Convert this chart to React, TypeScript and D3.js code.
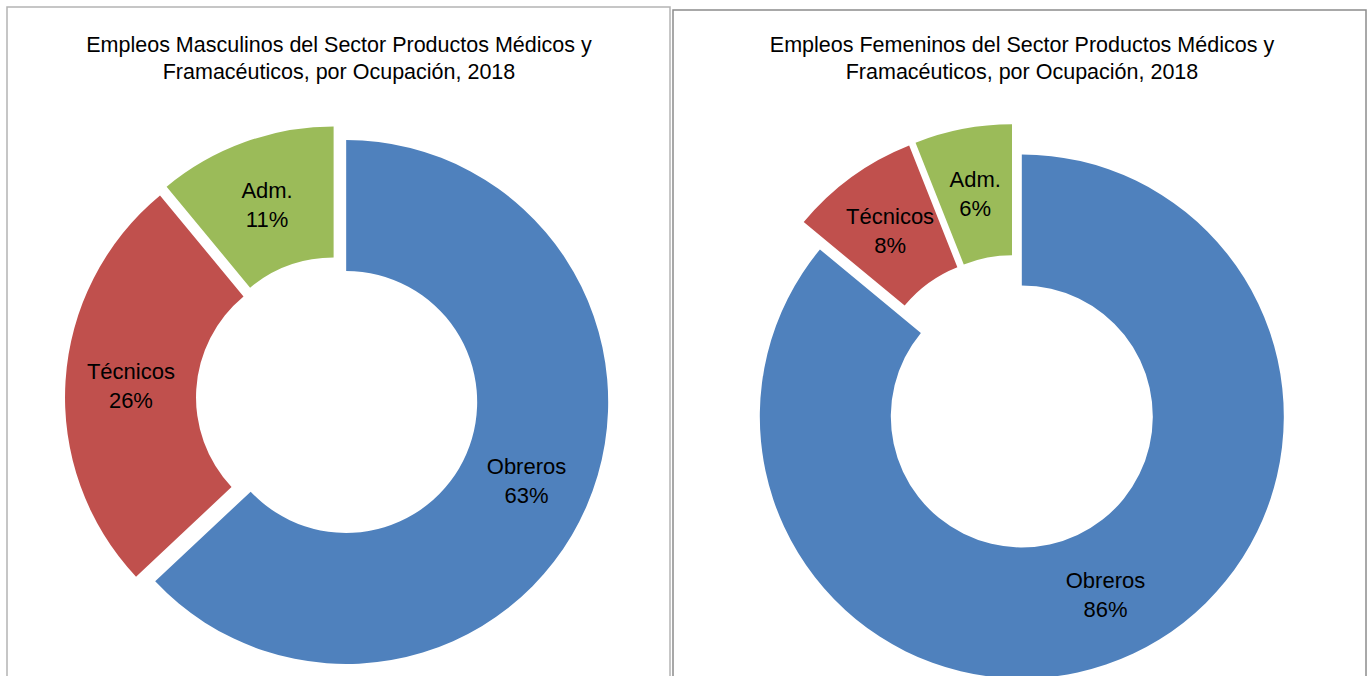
import { useRef, useEffect } from 'react'
import * as d3 from 'd3'

const categories = ['Obreros', 'Técnicos', 'Adm.']
const maleValues = [63, 26, 11]
const femaleValues = [86, 8, 6]
const colors = ['#4F81BD', '#C0504D', '#9BBB59']
const maleTitle = ['Empleos Masculinos del Sector Productos Médicos y', 'Framacéuticos, por Ocupación, 2018']
const femaleTitle = ['Empleos Femeninos del Sector Productos Médicos y', 'Framacéuticos, por Ocupación, 2018']

const FONT = '"Liberation Sans", Arial, sans-serif'

function App() {
  const ref = useRef<SVGSVGElement>(null)

  useEffect(() => {
    const svg = d3.select(ref.current)
    svg.selectAll('*').remove()

    // caption above the frames, mostly cut off by the top edge
    svg.append('text')
      .attr('x', 6).attr('y', -0.5)
      .style('font', `20px ${FONT}`)
      .attr('fill', '#6a6af2')
      .text('Gráfico Nº 4')

    const panels = [
      { x: 7, y: 7, w: 663, h: 690, stroke: '#b4b4b4', title: maleTitle, values: maleValues, cx: 337, cy: 398, off: 10, tx: 339 },
      { x: 673, y: 10, w: 693, h: 690, stroke: '#8c8c8c', title: femaleTitle, values: femaleValues, cx: 1015, cy: 402, off: 16, tx: 1022 },
    ]

    const pie = d3.pie<number>().sort(null).value(d => d)
    const arc = d3.arc<d3.PieArcDatum<number>>().innerRadius(131).outerRadius(262)

    panels.forEach(p => {
      svg.append('rect')
        .attr('x', p.x).attr('y', p.y)
        .attr('width', p.w).attr('height', p.h)
        .attr('fill', 'white')
        .attr('stroke', p.stroke)
        .attr('stroke-width', 1.5)

      p.title.forEach((line, i) => {
        svg.append('text')
          .attr('x', p.tx).attr('y', 52 + i * 27)
          .attr('text-anchor', 'middle')
          .style('font', `21.5px ${FONT}`)
          .attr('fill', '#000')
          .text(line)
      })

      const g = svg.append('g').attr('transform', `translate(${p.cx},${p.cy})`)
      const slices = pie(p.values)

      // exploded slices: each one pushed out along its mid angle
      const sg = g.selectAll('g.slice')
        .data(slices)
        .enter()
        .append('g')
        .attr('class', 'slice')
        .attr('transform', d => {
          const a = (d.startAngle + d.endAngle) / 2
          return `translate(${Math.sin(a) * p.off},${-Math.cos(a) * p.off})`
        })

      sg.append('path')
        .attr('d', arc)
        .attr('fill', (d, i) => colors[i])

      sg.each(function (d, i) {
        const [lx, ly] = arc.centroid(d)
        const t = d3.select(this).append('text')
          .attr('text-anchor', 'middle')
          .style('font', `22px ${FONT}`)
          .attr('fill', '#000')
        t.append('tspan').attr('x', lx).attr('y', ly - 6).text(categories[i])
        t.append('tspan').attr('x', lx).attr('y', ly + 23).text(`${d.data}%`)
      })
    })
  }, [])

  return (
    <div style={{ position: 'absolute', left: 0, top: 0 }}>
      <svg ref={ref} width={1369} height={676} style={{ display: 'block', background: 'white' }} />
    </div>
  )
}

export default App
